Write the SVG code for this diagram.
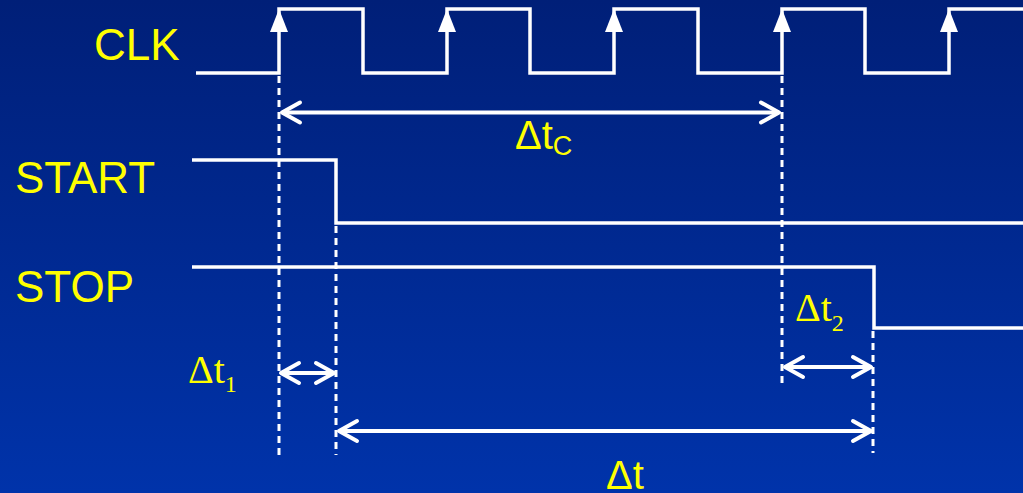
<svg xmlns="http://www.w3.org/2000/svg" width="1023" height="493" viewBox="0 0 1023 493">
  <defs>
    <linearGradient id="bg" x1="0" y1="0" x2="0" y2="1">
      <stop offset="0" stop-color="#001f78"/>
      <stop offset="1" stop-color="#0033aa"/>
    </linearGradient>
    <marker id="chev" markerUnits="userSpaceOnUse" markerWidth="24" markerHeight="24" viewBox="-2 -2 24 24" refX="18" refY="10" orient="auto-start-reverse" overflow="visible">
      <path d="M0,0 L18,10 L0,20" fill="none" stroke="#ffffff" stroke-width="4" stroke-linecap="round" stroke-linejoin="round"/>
    </marker>
    <style>
      .sig { fill: none; stroke: #ffffff; stroke-width: 3.5; stroke-linejoin: miter; }
      .tip { fill: #ffffff; }
      .dash { fill: none; stroke: #ffffff; stroke-width: 3; stroke-dasharray: 7 5; }
      .dim { fill: none; stroke: #ffffff; stroke-width: 4; marker-start: url(#chev); marker-end: url(#chev); }
      .lbl { fill: #ffff00; font-family: "Liberation Sans", Arial, sans-serif; font-size: 44px; }
      .sans { fill: #ffff00; font-family: "Liberation Sans", Arial, sans-serif; font-size: 40px; }
      .serif { fill: #ffff00; font-family: "Liberation Serif", "Times New Roman", serif; font-size: 40px; }
    </style>
  </defs>
  <rect x="0" y="0" width="1023" height="493" fill="url(#bg)"/>

  <g id="clk">
    <text class="lbl" x="94" y="60">CLK</text>
    <path class="sig" d="M196,73 H279 V9 H363 V73 H447 V9 H530 V73 H614 V9 H698 V73 H782 V9 H865 V73 H949 V9 H1023"/>
    <polygon class="tip" points="270,32 288,32 279,9"/>
    <polygon class="tip" points="438,32 456,32 447,9"/>
    <polygon class="tip" points="605,32 623,32 614,9"/>
    <polygon class="tip" points="773,32 791,32 782,9"/>
    <polygon class="tip" points="940,32 958,32 949,9"/>
  </g>

  <g id="start">
    <text class="lbl" x="15" y="193">START</text>
    <path class="sig" d="M192,160 H336 V223 H1023"/>
  </g>

  <g id="stop">
    <text class="lbl" x="15" y="302">STOP</text>
    <path class="sig" d="M192,267 H874 V328 H1023"/>
  </g>

  <g id="connectors">
    <line class="dash" x1="279" y1="76" x2="279" y2="455"/>
    <line class="dash" x1="336" y1="226" x2="336" y2="455"/>
    <line class="dash" x1="782" y1="76" x2="782" y2="388"/>
    <line class="dash" x1="873" y1="331" x2="873" y2="453"/>
    <line class="dim" x1="282" y1="112.5" x2="779" y2="112.5"/>
    <line class="dim" x1="281" y1="373" x2="334" y2="373"/>
    <line class="dim" x1="339" y1="431" x2="871" y2="431"/>
    <line class="dim" x1="785" y1="367" x2="871" y2="367"/>
  </g>

  <g id="labels">
    <text class="sans" x="515" y="149">Δt<tspan font-size="27" dy="6">C</tspan></text>
    <text class="serif" x="188" y="383">Δt<tspan font-size="24" dy="9">1</tspan></text>
    <text class="serif" x="795" y="321">Δt<tspan font-size="24" dy="10">2</tspan></text>
    <text class="sans" x="606" y="489">Δt</text>
  </g>
</svg>
